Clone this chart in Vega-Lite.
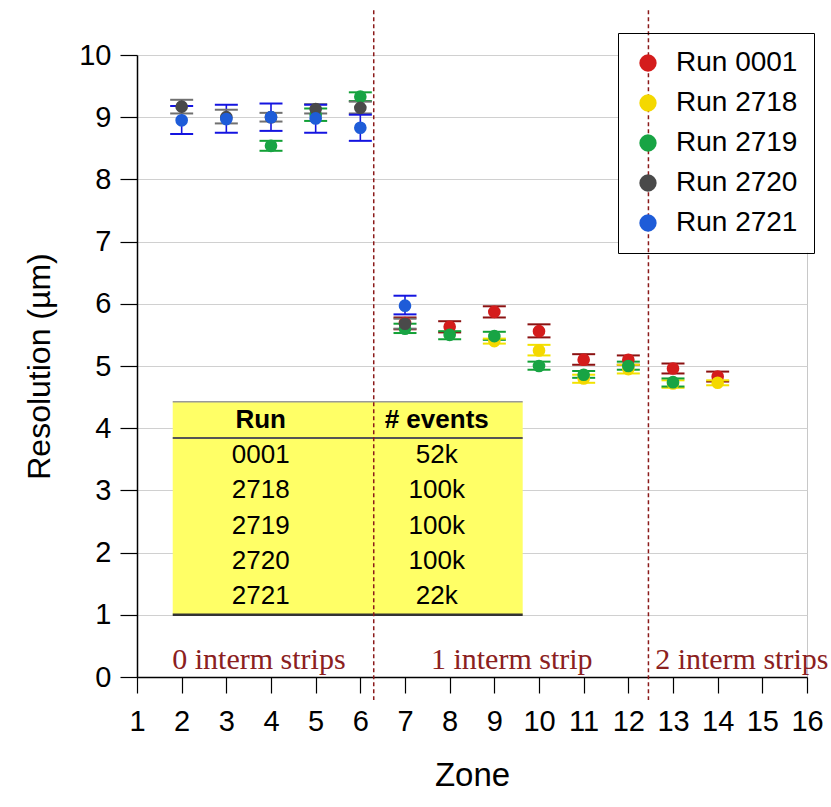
{
  "$schema": "https://vega.github.io/schema/vega-lite/v6.json",
  "width": 670,
  "height": 622,
  "autosize": "none",
  "padding": {"left": 137, "top": 55, "right": 24, "bottom": 130},
  "background": "white",
  "config": {
    "view": {"stroke": "#c8c8c8", "strokeWidth": 1},
    "font": "Liberation Sans",
    "axisX": {
      "grid": false, "tickSize": 16, "tickColor": "black", "tickWidth": 1.2, "tickCount": 15,
      "domainColor": "black", "domainWidth": 1.5, "labelFlush": false,
      "labelFontSize": 29, "labelColor": "black", "labelPadding": 14, "labelFont": "Liberation Sans",
      "titleFontSize": 33, "titleFontWeight": "normal", "titleColor": "black",
      "titlePadding": 23, "titleFont": "Liberation Sans", "format": "d"
    },
    "axisY": {
      "grid": true, "gridColor": "#d0d0d0", "gridWidth": 1, "tickCount": 10, "labelFlush": false,
      "tickSize": 17, "tickColor": "black", "tickWidth": 1.2,
      "domainColor": "black", "domainWidth": 1.5,
      "labelFontSize": 29, "labelColor": "black", "labelPadding": 9, "labelFont": "Liberation Sans",
      "titleFontSize": 32, "titleFontWeight": "normal", "titleColor": "black",
      "titlePadding": 22, "titleFont": "Liberation Sans", "format": "d"
    },
    "legend": {
      "padding": 16, "strokeColor": "black", "fillColor": "transparent",
      "labelFontSize": 28, "labelFont": "Liberation Sans", "labelColor": "black",
      "symbolType": "circle", "symbolSize": 300, "symbolStrokeWidth": 0, "symbolOpacity": 1,
      "rowPadding": 12, "labelOffset": 14
    }
  },
  "datasets": {
    "res": [
      {"run": "Run 0001", "zone": 7, "res": 5.69, "lo": 5.59, "hi": 5.78},
      {"run": "Run 0001", "zone": 8, "res": 5.63, "lo": 5.54, "hi": 5.72},
      {"run": "Run 0001", "zone": 9, "res": 5.87, "lo": 5.78, "hi": 5.96},
      {"run": "Run 0001", "zone": 10, "res": 5.56, "lo": 5.46, "hi": 5.67},
      {"run": "Run 0001", "zone": 11, "res": 5.1, "lo": 5.02, "hi": 5.19},
      {"run": "Run 0001", "zone": 12, "res": 5.1, "lo": 5.02, "hi": 5.17},
      {"run": "Run 0001", "zone": 13, "res": 4.96, "lo": 4.88, "hi": 5.04},
      {"run": "Run 0001", "zone": 14, "res": 4.83, "lo": 4.75, "hi": 4.91},
      {"run": "Run 2718", "zone": 9, "res": 5.4, "lo": 5.36, "hi": 5.44},
      {"run": "Run 2718", "zone": 10, "res": 5.25, "lo": 5.17, "hi": 5.34},
      {"run": "Run 2718", "zone": 11, "res": 4.8, "lo": 4.73, "hi": 4.86},
      {"run": "Run 2718", "zone": 12, "res": 4.95, "lo": 4.88, "hi": 5.02},
      {"run": "Run 2718", "zone": 13, "res": 4.72, "lo": 4.65, "hi": 4.77},
      {"run": "Run 2718", "zone": 14, "res": 4.73, "lo": 4.69, "hi": 4.77},
      {"run": "Run 2719", "zone": 4, "res": 8.54, "lo": 8.46, "hi": 8.62},
      {"run": "Run 2719", "zone": 5, "res": 9.04, "lo": 8.94, "hi": 9.14},
      {"run": "Run 2719", "zone": 6, "res": 9.33, "lo": 9.26, "hi": 9.4},
      {"run": "Run 2719", "zone": 7, "res": 5.6, "lo": 5.53, "hi": 5.68},
      {"run": "Run 2719", "zone": 8, "res": 5.5, "lo": 5.43, "hi": 5.56},
      {"run": "Run 2719", "zone": 9, "res": 5.48, "lo": 5.42, "hi": 5.55},
      {"run": "Run 2719", "zone": 10, "res": 5.0, "lo": 4.94, "hi": 5.07},
      {"run": "Run 2719", "zone": 11, "res": 4.86, "lo": 4.81, "hi": 4.92},
      {"run": "Run 2719", "zone": 12, "res": 5.0, "lo": 4.94, "hi": 5.07},
      {"run": "Run 2719", "zone": 13, "res": 4.74, "lo": 4.67, "hi": 4.8},
      {"run": "Run 2720", "zone": 2, "res": 9.17, "lo": 9.06, "hi": 9.28},
      {"run": "Run 2720", "zone": 3, "res": 9.0, "lo": 8.9, "hi": 9.12},
      {"run": "Run 2720", "zone": 4, "res": 9.0, "lo": 8.93, "hi": 9.07},
      {"run": "Run 2720", "zone": 5, "res": 9.13, "lo": 9.06, "hi": 9.21},
      {"run": "Run 2720", "zone": 6, "res": 9.15, "lo": 9.06, "hi": 9.25},
      {"run": "Run 2720", "zone": 7, "res": 5.68, "lo": 5.6, "hi": 5.76},
      {"run": "Run 2721", "zone": 2, "res": 8.95, "lo": 8.73, "hi": 9.18},
      {"run": "Run 2721", "zone": 3, "res": 8.97, "lo": 8.75, "hi": 9.2},
      {"run": "Run 2721", "zone": 4, "res": 9.0, "lo": 8.78, "hi": 9.22},
      {"run": "Run 2721", "zone": 5, "res": 8.98, "lo": 8.75, "hi": 9.2},
      {"run": "Run 2721", "zone": 6, "res": 8.83, "lo": 8.62, "hi": 9.04},
      {"run": "Run 2721", "zone": 7, "res": 5.97, "lo": 5.83, "hi": 6.13}
    ],
    "table": [
      {"row": 1, "run": "0001", "events": "52k"},
      {"row": 2, "run": "2718", "events": "100k"},
      {"row": 3, "run": "2719", "events": "100k"},
      {"row": 4, "run": "2720", "events": "100k"},
      {"row": 5, "run": "2721", "events": "22k"}
    ],
    "bounds": [{"zone": 6.3}, {"zone": 12.45}]
  },
  "resolve": {"scale": {"y": "independent"}},
  "layer": [
    {
      "data": {"name": "res"},
      "encoding": {
        "x": {
          "field": "zone", "type": "quantitative", "title": "Zone",
          "scale": {"domain": [1, 16], "nice": false, "zero": false}
        }
      },
      "layer": [
        {
          "mark": {"type": "rule", "strokeWidth": 1.6},
          "encoding": {
            "y": {
              "field": "lo", "type": "quantitative", "title": "Resolution (µm)",
              "scale": {"domain": [0, 10], "nice": false}
            },
            "y2": {"field": "hi"},
            "stroke": {
              "field": "run", "type": "nominal", "legend": null,
              "scale": {"domain": ["Run 2721", "Run 2720", "Run 2719", "Run 2718", "Run 0001"],
                        "range": ["#1414e0", "#707070", "#12a035", "#f2e200", "#8b1212"]}
            }
          }
        },
        {
          "mark": {"type": "point", "shape": "M-1,0L1,0", "filled": false, "size": 529, "strokeWidth": 2, "opacity": 1},
          "encoding": {
            "y": {"field": "lo", "type": "quantitative", "title": "Resolution (µm)"},
            "stroke": {"field": "run", "type": "nominal", "legend": null}
          }
        },
        {
          "mark": {"type": "point", "shape": "M-1,0L1,0", "filled": false, "size": 529, "strokeWidth": 2, "opacity": 1},
          "encoding": {
            "y": {"field": "hi", "type": "quantitative", "title": "Resolution (µm)"},
            "stroke": {"field": "run", "type": "nominal", "legend": null}
          }
        },
        {
          "mark": {"type": "point", "shape": "circle", "filled": true, "size": 160, "opacity": 1},
          "encoding": {
            "y": {"field": "res", "type": "quantitative", "title": "Resolution (µm)"},
            "color": {
              "field": "run", "type": "nominal", "title": null,
              "scale": {"domain": ["Run 0001", "Run 2718", "Run 2719", "Run 2720", "Run 2721"],
                        "range": ["#d41c1c", "#f4d800", "#18a444", "#4a4a4a", "#1e5cd8"]},
              "legend": {"orient": "none", "legendX": 481, "legendY": -22}
            }
          }
        }
      ]
    },
    {
      "data": {"name": "table"},
      "layer": [
        {
          "data": {"values": [{}]},
          "mark": {"type": "rect", "color": "#ffff66"},
          "encoding": {
            "x": {"datum": 1.8, "type": "quantitative", "title": "Zone"},
            "x2": {"datum": 9.635},
            "y": {"datum": -0.51, "type": "quantitative", "axis": null,
                  "scale": {"domain": [-10.33, 7.29], "reverse": true, "nice": false, "zero": false}},
            "y2": {"datum": 5.53}
          }
        },
        {
          "data": {"values": [{}]},
          "mark": {"type": "rule", "color": "#9a9a9a", "strokeWidth": 1.5},
          "encoding": {
            "x": {"datum": 1.8, "type": "quantitative", "title": "Zone"},
            "x2": {"datum": 9.635},
            "y": {"datum": -0.51, "type": "quantitative", "axis": null}
          }
        },
        {
          "data": {"values": [{}]},
          "mark": {"type": "rule", "color": "#555555", "strokeWidth": 2},
          "encoding": {
            "x": {"datum": 1.8, "type": "quantitative", "title": "Zone"},
            "x2": {"datum": 9.635},
            "y": {"datum": 0.52, "type": "quantitative", "axis": null}
          }
        },
        {
          "data": {"values": [{}]},
          "mark": {"type": "rule", "color": "#333333", "strokeWidth": 2.5},
          "encoding": {
            "x": {"datum": 1.8, "type": "quantitative", "title": "Zone"},
            "x2": {"datum": 9.635},
            "y": {"datum": 5.53, "type": "quantitative", "axis": null}
          }
        },
        {
          "data": {"values": [{}]},
          "mark": {"type": "text", "fontSize": 26, "fontWeight": "bold", "color": "black", "baseline": "middle", "align": "center"},
          "encoding": {
            "x": {"datum": 3.77, "type": "quantitative", "title": "Zone"},
            "y": {"datum": 0, "type": "quantitative", "axis": null},
            "text": {"value": "Run"}
          }
        },
        {
          "data": {"values": [{}]},
          "mark": {"type": "text", "fontSize": 26, "fontWeight": "bold", "color": "black", "baseline": "middle", "align": "center"},
          "encoding": {
            "x": {"datum": 7.71, "type": "quantitative", "title": "Zone"},
            "y": {"datum": 0, "type": "quantitative", "axis": null},
            "text": {"value": "# events"}
          }
        },
        {
          "mark": {"type": "text", "fontSize": 26, "color": "black", "baseline": "middle", "align": "center"},
          "encoding": {
            "x": {"datum": 3.77, "type": "quantitative", "title": "Zone"},
            "y": {"field": "row", "type": "quantitative", "axis": null},
            "text": {"field": "run"}
          }
        },
        {
          "mark": {"type": "text", "fontSize": 26, "color": "black", "baseline": "middle", "align": "center"},
          "encoding": {
            "x": {"datum": 7.71, "type": "quantitative", "title": "Zone"},
            "y": {"field": "row", "type": "quantitative", "axis": null},
            "text": {"field": "events"}
          }
        }
      ]
    },
    {
      "data": {"name": "bounds"},
      "layer": [
        {
          "data": {"values": [{}]},
          "mark": {"type": "rect", "color": "white"},
          "encoding": {
            "x": {"datum": 11.77, "type": "quantitative", "title": "Zone"},
            "x2": {"datum": 16.13},
            "y": {"datum": 10.35, "type": "quantitative", "axis": null,
                  "scale": {"domain": [0, 10], "nice": false}},
            "y2": {"datum": 6.82}
          }
        },
        {
          "mark": {"type": "rule", "color": "#8b1a1a", "strokeDash": [4, 3], "strokeWidth": 1.5},
          "encoding": {
            "x": {"field": "zone", "type": "quantitative", "title": "Zone"},
            "y": {"datum": 10.72, "type": "quantitative", "axis": null},
            "y2": {"datum": -0.37}
          }
        },
        {
          "data": {"values": [{}]},
          "mark": {"type": "text", "font": "Liberation Serif", "fontSize": 30, "color": "#8b2020", "baseline": "middle", "align": "center"},
          "encoding": {
            "x": {"datum": 3.73, "type": "quantitative", "title": "Zone"},
            "y": {"datum": 0.27, "type": "quantitative", "axis": null},
            "text": {"value": "0 interm strips"}
          }
        },
        {
          "data": {"values": [{}]},
          "mark": {"type": "text", "font": "Liberation Serif", "fontSize": 30, "color": "#8b2020", "baseline": "middle", "align": "center"},
          "encoding": {
            "x": {"datum": 9.39, "type": "quantitative", "title": "Zone"},
            "y": {"datum": 0.27, "type": "quantitative", "axis": null},
            "text": {"value": "1 interm strip"}
          }
        },
        {
          "data": {"values": [{}]},
          "mark": {"type": "text", "font": "Liberation Serif", "fontSize": 30, "color": "#8b2020", "baseline": "middle", "align": "center"},
          "encoding": {
            "x": {"datum": 14.54, "type": "quantitative", "title": "Zone"},
            "y": {"datum": 0.27, "type": "quantitative", "axis": null},
            "text": {"value": "2 interm strips"}
          }
        }
      ]
    }
  ]
}
